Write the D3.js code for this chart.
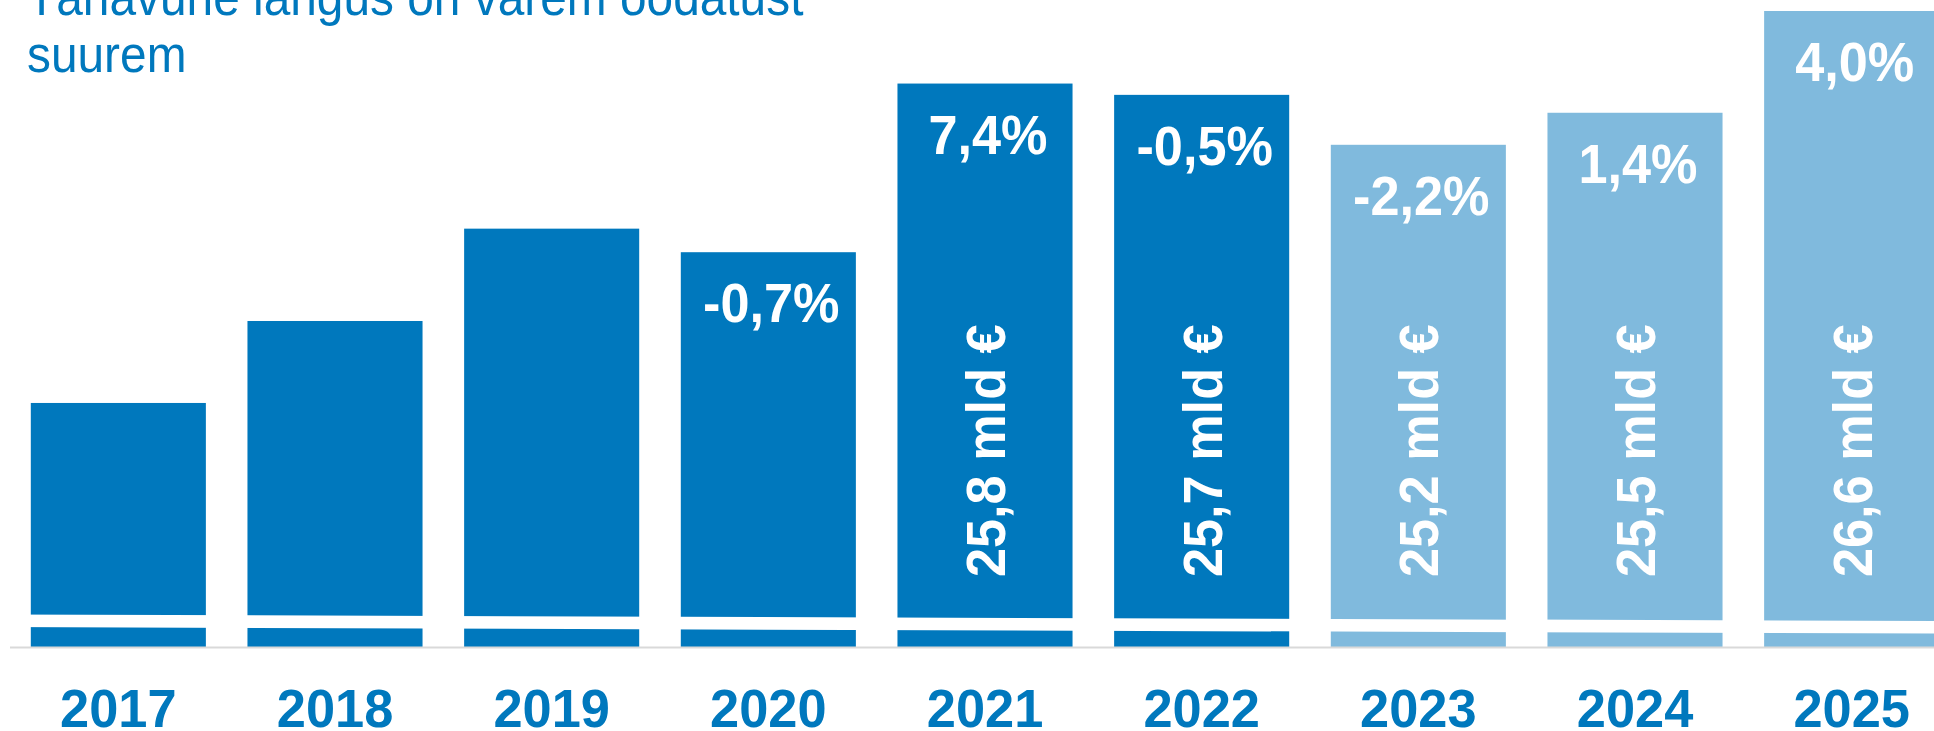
<!DOCTYPE html>
<html>
<head>
<meta charset="utf-8">
<script src="https://cdn.jsdelivr.net/npm/d3@7"></script>
<style>
  html, body { margin: 0; padding: 0; background: #fff; }
  svg { display: block; font-family: "Liberation Sans", Arial, sans-serif; }
</style>
</head>
<body>
<div id="chart"></div>
<script>
// data (billion €)
const years = ["2017", "2018", "2019", "2020", "2021", "2022", "2023", "2024", "2025"];
const values = [22.44, 23.31, 24.29, 24.04, 25.83, 25.71, 25.18, 25.52, 26.6];
const forecast = [false, false, false, false, false, false, true, true, true];
const growthLabels = [null, null, null, "-0,7%", "7,4%", "-0,5%", "-2,2%", "1,4%", "4,0%"];
const showAmount = [false, false, false, false, true, true, true, true, true];
const titleLines = ["Tänavune langus on varem oodatust", "suurem"];

const WIDTH = 1934, HEIGHT = 731;
const BLUE = "#0078bd";
const LIGHT_BLUE = "#80badd";
const BASELINE = 647;

const svg = d3.select("#chart")
    .append("svg")
    .attr("width", WIDTH)
    .attr("height", HEIGHT);

const x = d3.scaleBand()
    .domain(years)
    .range([10, 1960])
    .paddingInner(0.192)
    .paddingOuter(0.096);

const y = d3.scaleLinear()
    .domain([19.85, 26.6])
    .range([BASELINE, 11]);

const fmt = v => v.toFixed(1).replace(".", ",");
const cx = d => x(d) + x.bandwidth() / 2;
const val = d => values[years.indexOf(d)];

// title (the original font is a bit narrower than Arial, so squeeze it)
svg.append("g")
    .selectAll("text")
    .data(titleLines)
    .enter().append("text")
    .attr("transform", (d, i) => `translate(27,${15 + i * 57}) scale(0.92,1)`)
    .attr("fill", BLUE)
    .attr("font-size", 52)
    .text(d => d);

// bars
svg.append("g")
    .selectAll("rect")
    .data(years)
    .enter().append("rect")
    .attr("x", d => x(d))
    .attr("y", d => y(val(d)))
    .attr("width", x.bandwidth())
    .attr("height", d => BASELINE - y(val(d)))
    .attr("fill", (d, i) => forecast[i] ? LIGHT_BLUE : BLUE);

// axis break: slightly tilted white band across all bars
const breakTop0 = BASELINE - 32.5, breakTop1 = BASELINE - 26, breakH = 12.6;
svg.append("path")
    .attr("d", `M0,${breakTop0} L${WIDTH},${breakTop1} L${WIDTH},${breakTop1 + breakH} L0,${breakTop0 + breakH} Z`)
    .attr("fill", "#fff");

// baseline
svg.append("line")
    .attr("x1", 10).attr("x2", WIDTH)
    .attr("y1", BASELINE + 0.5).attr("y2", BASELINE + 0.5)
    .attr("stroke", "#d9d9d9")
    .attr("stroke-width", 2);

// year labels
svg.append("g")
    .selectAll("text")
    .data(years)
    .enter().append("text")
    .attr("transform", d => `translate(${cx(d)},727) scale(0.97,1)`)
    .attr("text-anchor", "middle")
    .attr("font-size", 54)
    .attr("font-weight", "bold")
    .attr("fill", BLUE)
    .text(d => d);

// growth labels at top of bars
svg.append("g")
    .selectAll("text")
    .data(years.filter((d, i) => growthLabels[i]))
    .enter().append("text")
    .attr("transform", d => `translate(${cx(d) + 3},${y(val(d)) + 70}) scale(0.95,1)`)
    .attr("text-anchor", "middle")
    .attr("font-size", 55)
    .attr("font-weight", "bold")
    .attr("fill", "#fff")
    .text(d => growthLabels[years.indexOf(d)]);

// rotated amount labels
svg.append("g")
    .selectAll("text")
    .data(years.filter((d, i) => showAmount[i]))
    .enter().append("text")
    .attr("transform", d => `translate(${cx(d) + 20},577) rotate(-90) scale(0.95,1)`)
    .attr("text-anchor", "start")
    .attr("font-size", 55)
    .attr("font-weight", "bold")
    .attr("fill", "#fff")
    .text(d => fmt(val(d)) + " mld €");
</script>
</body>
</html>
